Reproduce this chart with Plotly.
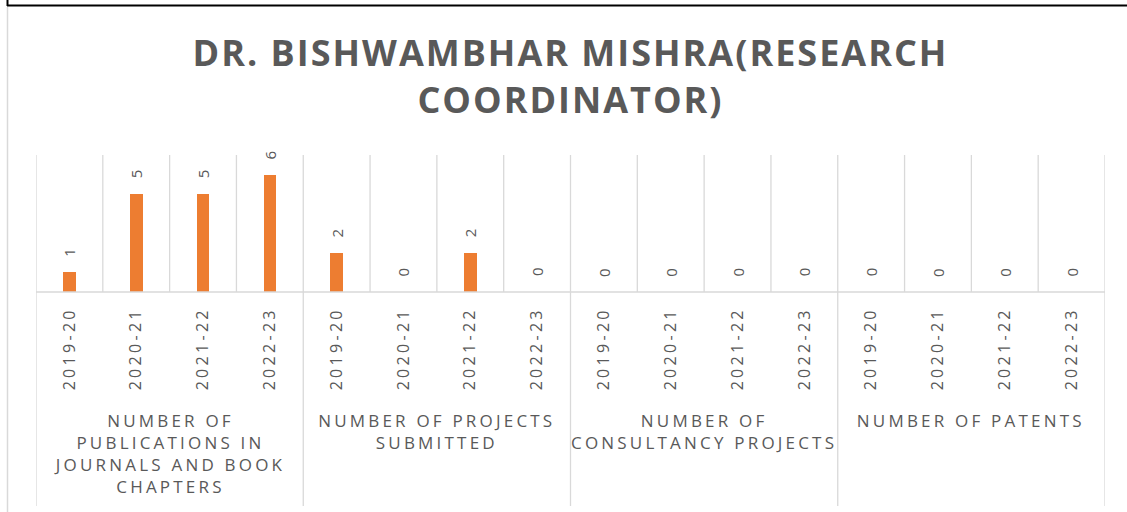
import plotly.graph_objects as go

groups = [
    "NUMBER OF<br>PUBLICATIONS IN<br>JOURNALS AND BOOK<br>CHAPTERS",
    "NUMBER OF PROJECTS<br>SUBMITTED",
    "NUMBER OF<br>CONSULTANCY PROJECTS",
    "NUMBER OF PATENTS",
]
years = ["2019-20", "2020-21", "2021-22", "2022-23"]
values = [1, 5, 5, 6, 2, 0, 2, 0, 0, 0, 0, 0, 0, 0, 0, 0]
title_text = "DR. BISHWAMBHAR MISHRA(RESEARCH<br>COORDINATOR)"

BAR = "#ED7D31"
GRID = "#d9d9d9"
TXT = "#595959"
FONT = "Open Sans"

n_years = len(years)
n = len(values)
xs = list(range(n))
ticktext = [years[i % n_years] for i in xs]

W, H = 1127, 512
L, R, T, B = 36, 22, 155, 220
plot_h = H - T - B


def py(pixel_y):
    # convert a pixel row to paper y
    return (H - B - pixel_y) / plot_h


def px(pixel_x):
    return (pixel_x - L) / (W - L - R)


fig = go.Figure()
fig.add_trace(go.Bar(x=xs, y=values, marker=dict(color=BAR, line=dict(width=0)),
                     width=0.19, hoverinfo="skip"))

shapes = []
# vertical gridlines in plot area
for i in range(n + 1):
    shapes.append(dict(type="line", xref="x", yref="paper", x0=i - 0.5, x1=i - 0.5,
                       y0=0, y1=1, line=dict(color=GRID, width=1.3), layer="below"))
# group separators below axis
for g in range(len(groups) + 1):
    xv = g * n_years - 0.5
    shapes.append(dict(type="line", xref="x", yref="paper", x0=xv, x1=xv,
                       y0=0, y1=py(506), line=dict(color=GRID, width=1.3)))
# axis line
shapes.append(dict(type="line", xref="x", yref="paper", x0=-0.5, x1=n - 0.5,
                   y0=0, y1=0, line=dict(color=GRID, width=1.5)))
# outer borders (document frame)
shapes.append(dict(type="line", xref="paper", yref="paper", x0=px(7.5), x1=px(7.5),
                   y0=py(7), y1=py(512), line=dict(color=GRID, width=1.5)))
shapes.append(dict(type="line", xref="paper", yref="paper", x0=px(7), x1=px(1127),
                   y0=py(5.5), y1=py(5.5), line=dict(color="#000000", width=2)))
shapes.append(dict(type="line", xref="paper", yref="paper", x0=px(7.5), x1=px(7.5),
                   y0=py(0), y1=py(6), line=dict(color="#000000", width=2)))

annotations = []
for i, v in enumerate(values):
    annotations.append(dict(x=i, y=v, xref="x", yref="y", text=str(v), showarrow=False,
                            textangle=-90, yshift=20, xanchor="center", yanchor="middle",
                            font=dict(family=FONT, size=15, color=TXT)))
for g, name in enumerate(groups):
    annotations.append(dict(x=g * n_years + (n_years - 1) / 2, y=py(407), xref="x", yref="paper",
                            text=name, showarrow=False, xanchor="center", yanchor="top",
                            align="center",
                            font=dict(family=FONT, size=17, color=TXT)))

fig.update_layout(
    width=W, height=H, autosize=False,
    margin=dict(l=L, r=R, t=T, b=B),
    paper_bgcolor="white", plot_bgcolor="white",
    showlegend=False,
    title=dict(text=title_text, x=0.5, xref="paper", xanchor="center",
               y=1 - 66 / H, yref="container", yanchor="middle",
               font=dict(family=FONT, size=36, color=TXT, weight="bold")),
    xaxis=dict(range=[-0.5, n - 0.5], tickmode="array", tickvals=xs, ticktext=ticktext,
               tickangle=-90, showgrid=False, zeroline=False, showline=False, ticks="",
               ticklabelstandoff=11,
               tickfont=dict(family=FONT, size=16, color=TXT), fixedrange=True),
    yaxis=dict(range=[0, 7], showgrid=False, zeroline=False, showticklabels=False,
               showline=False, ticks="", fixedrange=True),
    shapes=shapes,
    annotations=annotations,
    bargap=0,
)

post = """
var gd = document.querySelector('.js-plotly-plot');
gd.querySelectorAll('.xtick text').forEach(function(t){ t.style.letterSpacing = '3.3px'; });
gd.querySelectorAll('.gtitle').forEach(function(t){ t.style.letterSpacing = '2px'; });
gd.querySelectorAll('.annotation').forEach(function(a){
  var idx = parseInt(a.getAttribute('data-index'));
  if (idx >= 16) { a.querySelectorAll('text').forEach(function(t){ t.style.letterSpacing = '3.2px'; }); }
});
"""

fig.write_html("out.html", config={"displayModeBar": False, "staticPlot": True}, post_script=post)
